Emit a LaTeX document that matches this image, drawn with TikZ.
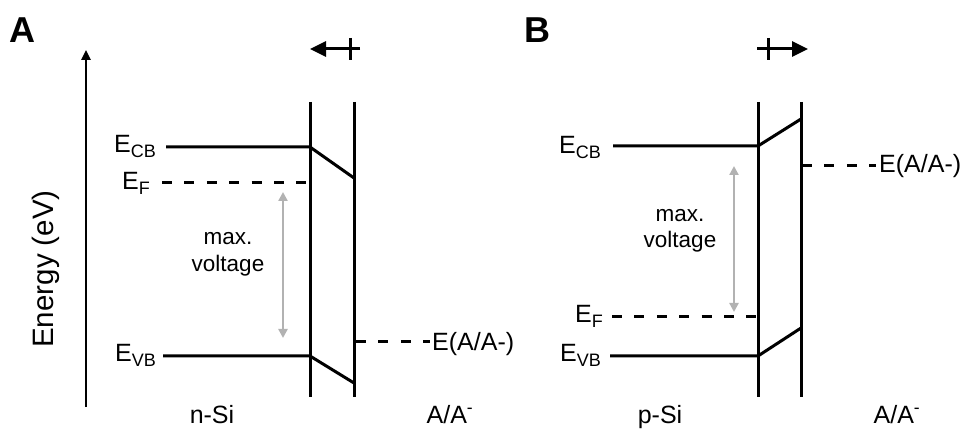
\documentclass[tikz,border=0pt]{standalone}
\usepackage{fontspec}
\setmainfont{Liberation Sans}
\usetikzlibrary{arrows.meta}
\definecolor{lgray}{RGB}{178,178,178}
\newcommand\lowsub[1]{\raisebox{-5pt}{\fontsize{18}{18}\selectfont #1}}
\begin{document}
\begin{tikzpicture}[x=1pt,y=-1pt,
  band/.style={line width=3pt, line join=miter},
  wall/.style={line width=3pt},
  fermi/.style={line width=3pt, dash pattern=on 10pt off 12.4pt},
  axisarrow/.style={line width=2.4pt, -{Triangle[length=10pt,width=9pt]}},
  grayarrow/.style={line width=2.4pt, draw=lgray, {Triangle[length=9pt,width=9pt]}-{Triangle[length=9pt,width=9pt]}},
  dirarrow/.style={line width=3pt, -{Triangle[length=16pt,width=15pt]}},
  lbl/.style={font=\fontsize{25}{30}\selectfont, inner sep=0pt},
  mv/.style={font=\fontsize{22.5}{27}\selectfont, inner sep=0pt, align=center},
  panel/.style={font=\fontsize{36}{38}\selectfont\bfseries, inner sep=0pt}]
\useasboundingbox (0,0) rectangle (967,430);

% ---------------- Panel A ----------------
\node[panel, anchor=base] (pA) at (22,43) {A};
\coordinate (axb) at (86,407);
\coordinate (axt) at (86,50);
\draw[axisarrow] (axb) -- (axt);
\node[font=\fontsize{29.5}{30}\selectfont, rotate=90, inner sep=0pt] (energy) at (46,269) {Energy (eV)};

% top direction arrow
\coordinate (dAs) at (360,49);
\coordinate (dAe) at (310,49);
\draw[dirarrow] (dAs) -- (dAe);
\coordinate (tAt) at (350,38);
\coordinate (tAb) at (350,60);
\draw[line width=3pt] (tAt) -- (tAb);

% walls
\coordinate (wA1t) at (310,102); \coordinate (wA1b) at (310,397);
\coordinate (wA2t) at (354,102); \coordinate (wA2b) at (354,397);
\draw[wall] (wA1t) -- (wA1b);
\draw[wall] (wA2t) -- (wA2b);

% bands
\node[lbl, anchor=base east] (ecbA) at (156,153) {E\lowsub{CB}};
\node[lbl, anchor=base east] (efA) at (150,190) {E\lowsub{F}};
\node[lbl, anchor=base east] (evbA) at (156,362) {E\lowsub{VB}};
\coordinate (ecbA0) at (166,147); \coordinate (ecbA1) at (310,147); \coordinate (ecbA2) at (354,178);
\coordinate (efA0) at (162,183); \coordinate (efA1) at (310,183);
\coordinate (evbA0) at (163,356); \coordinate (evbA1) at (310,356); \coordinate (evbA2) at (354,383);
\draw[band] (ecbA0) -- (ecbA1) -- (ecbA2);
\draw[fermi] (efA0) -- (efA1);
\draw[band] (evbA0) -- (evbA1) -- (evbA2);

% redox level
\coordinate (redA0) at (356,342); \coordinate (redA1) at (430,342);
\draw[fermi] (redA0) -- (redA1);
\node[lbl, anchor=base west] (redAl) at (432,351) {E(A/A-)};

% max voltage
\coordinate (gA0) at (283,192); \coordinate (gA1) at (283,338);
\draw[grayarrow] (gA0) -- (gA1);
\node[mv, anchor=base] (mvA1) at (228,245) {max.};
\node[mv, anchor=base] (mvA2) at (228,272) {voltage};

% bottom labels
\node[lbl, anchor=base] (nsi) at (212,424) {n-Si};
\node[lbl, anchor=base] (aaA) at (450,423) {A/A\textsuperscript{-}};

% ---------------- Panel B ----------------
\node[panel, anchor=base] (pB) at (537,43) {B};

\coordinate (dBs) at (757,49);
\coordinate (dBe) at (808,49);
\draw[dirarrow] (dBs) -- (dBe);
\coordinate (tBt) at (768,38);
\coordinate (tBb) at (768,60);
\draw[line width=3pt] (tBt) -- (tBb);

\coordinate (wB1t) at (758,102); \coordinate (wB1b) at (758,397);
\coordinate (wB2t) at (801,102); \coordinate (wB2b) at (801,397);
\draw[wall] (wB1t) -- (wB1b);
\draw[wall] (wB2t) -- (wB2b);

\node[lbl, anchor=base east] (ecbB) at (601,154) {E\lowsub{CB}};
\node[lbl, anchor=base east] (efB) at (603,323) {E\lowsub{F}};
\node[lbl, anchor=base east] (evbB) at (601,362) {E\lowsub{VB}};
\coordinate (ecbB0) at (613,146); \coordinate (ecbB1) at (758,146); \coordinate (ecbB2) at (801,119);
\coordinate (efB0) at (612,317); \coordinate (efB1) at (758,317);
\coordinate (evbB0) at (610,356); \coordinate (evbB1) at (758,356); \coordinate (evbB2) at (801,328);
\draw[band] (ecbB0) -- (ecbB1) -- (ecbB2);
\draw[fermi] (efB0) -- (efB1);
\draw[band] (evbB0) -- (evbB1) -- (evbB2);

\coordinate (redB0) at (802,166); \coordinate (redB1) at (876,166);
\draw[fermi] (redB0) -- (redB1);
\node[lbl, anchor=base west] (redBl) at (879,173) {E(A/A-)};

\coordinate (gB0) at (734,166); \coordinate (gB1) at (734,312);
\draw[grayarrow] (gB0) -- (gB1);
\node[mv, anchor=base] (mvB1) at (680,222) {max.};
\node[mv, anchor=base] (mvB2) at (680,248) {voltage};

\node[lbl, anchor=base] (psi) at (660,423) {p-Si};
\node[lbl, anchor=base] (aaB) at (897,423) {A/A\textsuperscript{-}};
\end{tikzpicture}
\end{document}
